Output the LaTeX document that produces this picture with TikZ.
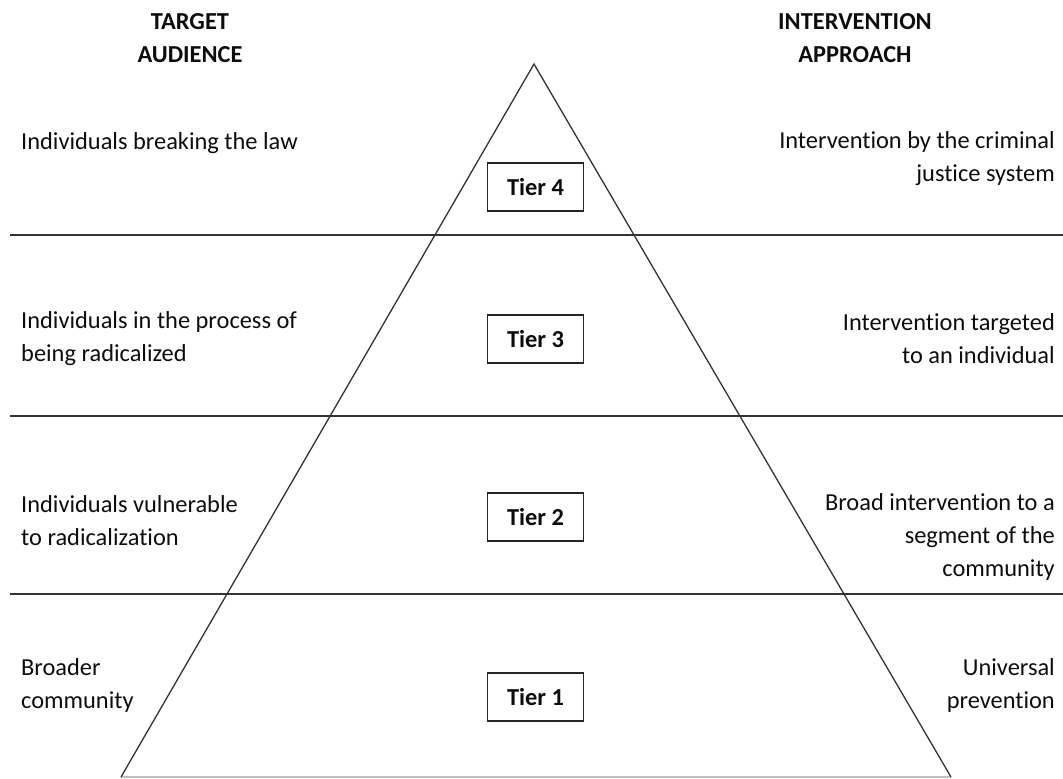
\documentclass[tikz,border=0pt]{standalone}
\usepackage{fontspec}
\setmainfont{Carlito}[Ligatures={NoCommon,NoRequired,NoContextual}]
\usepackage{tikz}

\newcommand{\txtsize}{\fontsize{24.4}{33}\selectfont}

\begin{document}
\begin{tikzpicture} [x=1pt,y=-1pt,
  heading/.style={font=\txtsize\bfseries,text=black!95,align=center,inner sep=0pt},
  lefttext/.style={font=\txtsize,text=black!95,align=left,anchor=west,inner sep=0pt},
  righttext/.style={font=\txtsize,text=black!95,align=right,anchor=east,inner sep=0pt},
  tierbox/.style={draw=black!85,line width=1.6pt,fill=white,font=\txtsize\bfseries,text=black!95,minimum width=96pt,minimum height=48pt,inner sep=0pt},
  band/.style={draw=black!80,line width=1.8pt},
  side/.style={draw=black!80,line width=1.3pt},
  base/.style={draw=black!25,line width=1.5pt}]
\useasboundingbox (0,0) rectangle (1063,779);
\coordinate (apex) at (534,64);
\coordinate (baseL) at (121,777);
\coordinate (baseR) at (951,777);
\coordinate (b1L) at (10,235);
\coordinate (b1R) at (1063,235);
\coordinate (b2L) at (10,416);
\coordinate (b2R) at (1063,416);
\coordinate (b3L) at (10,594);
\coordinate (b3R) at (1063,594);
\draw[base] (baseL) -- (baseR);
\draw[side] (baseL) -- (apex) -- (baseR);
\draw[band] (b1L) -- (b1R);
\draw[band] (b2L) -- (b2R);
\draw[band] (b3L) -- (b3R);
\node[heading] (target) at (190,38) {TARGET\\AUDIENCE};
\node[heading] (approach) at (855,38) {INTERVENTION\\APPROACH};
\node[tierbox] (tier4) at (535.5,187) {Tier 4};
\node[tierbox] (tier3) at (535.5,339) {Tier 3};
\node[tierbox] (tier2) at (535.5,517) {Tier 2};
\node[tierbox] (tier1) at (535.5,697) {Tier 1};
\node[lefttext] (aud4) at (21,143) {Individuals breaking the law};
\node[lefttext] (aud3) at (21,339) {Individuals in the process of\\being radicalized};
\node[lefttext] (aud2) at (21,521) {Individuals vulnerable\\to radicalization};
\node[lefttext] (aud1) at (21,685) {Broader\\community};
\node[righttext] (app4) at (1055,159) {Intervention by the criminal\\justice system};
\node[righttext] (app3) at (1055,339) {Intervention targeted\\to an individual};
\node[righttext] (app2) at (1055,537) {Broad intervention to a\\segment of the\\community};
\node[righttext] (app1) at (1055,685) {Universal\\prevention};
\end{tikzpicture}
\end{document}
